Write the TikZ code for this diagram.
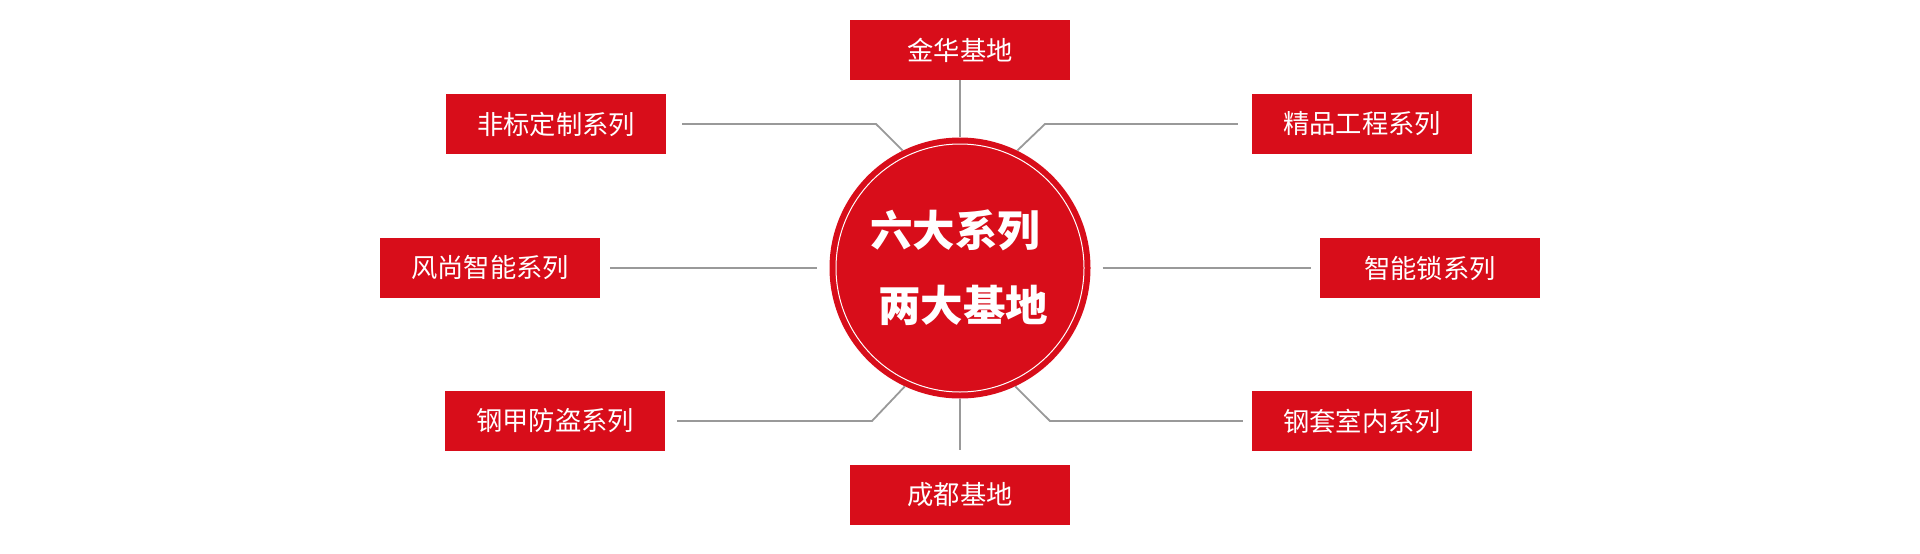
\documentclass[tikz,border=0pt]{standalone}
\usepackage{fontspec}
\usepackage{tikz}
\usetikzlibrary{positioning}
\newfontfamily\cjk{Noto Sans CJK SC}
\definecolor{mred}{HTML}{D80D1A}
\definecolor{mgray}{HTML}{999999}
\tikzset{serbox/.style = {fill = mred, text = white, inner sep = 0, minimum width = 220, minimum height = 60, font = \cjk\fontsize{26.3}{26.3}\selectfont}}
\tikzset{link/.style = {mgray, line width = 1.8}}
\tikzset{hubtext/.style = {text = white, inner sep = 0, font = \cjk\bfseries\fontsize{42.5}{42.5}\selectfont}}

\begin{document}
\begin{tikzpicture}[x = 1pt, y = -1pt]
    \useasboundingbox (0, 0) rectangle (1920, 554);

    \node [circle, fill = mred, inner sep = 0, minimum size = 261] (hub) at (960, 268) {};
    \draw [white, line width = 1] (hub.center) circle [radius = 124];
    \node [hubtext] (six) at (955, 230) {六大系列};
    \node [hubtext] (two) at (963, 305) {两大基地};

    \node [serbox] (jh) at (960, 50) {金华基地};
    \node [serbox] (cd) at (960, 495) {成都基地};
    \node [serbox] (fb) at (556, 124) {非标定制系列};
    \node [serbox] (jp) at (1362, 124) {精品工程系列};
    \node [serbox] (fs) at (490, 268) {风尚智能系列};
    \node [serbox] (zn) at (1430, 268) {智能锁系列};
    \node [serbox] (gj) at (555, 421) {钢甲防盗系列};
    \node [serbox] (gt) at (1362, 421) {钢套室内系列};

    \coordinate (fbbend) at (876, 124);
    \coordinate (jpbend) at (1045, 124);
    \coordinate (gjbend) at (872, 421);
    \coordinate (gtbend) at (1050, 421);

    \draw [link] (jh.south) -- (hub.north);
    \draw [link] (hub.south) -- ([yshift = 15pt]cd.north);
    \draw [link] ([xshift = 16pt]fb.east) -- (fbbend) -- (hub.116);
    \draw [link] ([xshift = -14pt]jp.west) -- (jpbend) -- (hub.64);
    \draw [link] ([xshift = 10pt]fs.east) -- ([xshift = -12pt]hub.west);
    \draw [link] ([xshift = 12pt]hub.east) -- ([xshift = -9pt]zn.west);
    \draw [link] ([xshift = 12pt]gj.east) -- (gjbend) -- (hub.245);
    \draw [link] ([xshift = -9pt]gt.west) -- (gtbend) -- (hub.295);
\end{tikzpicture}
\end{document}
